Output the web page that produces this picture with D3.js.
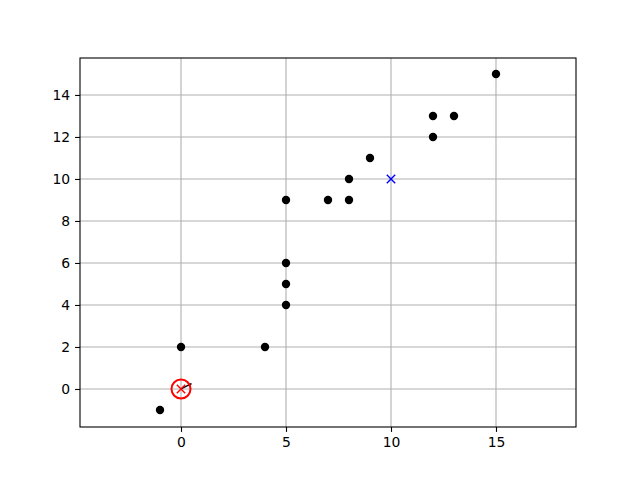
<!DOCTYPE html>
<html>
<head>
<script src="https://d3js.org/d3.v7.min.js"></script>
<style>
  body { margin: 0; background: #fff; }
  .tick text { font-family: "DejaVu Sans", sans-serif; font-size: 13.9px; fill: #000; }
</style>
</head>
<body>
<div id="chart"></div>
<script>
// data points (black dots)
var xs = [-1, 0, 4, 5, 5, 5, 5, 7, 8, 8, 9, 12, 12, 13, 15];
var ys = [-1, 2, 2, 4, 5, 6, 9, 9, 9, 10, 11, 12, 13, 13, 15];
// blue query marker
var queryX = [10], queryY = [10];
// red origin marker + arrow
var originX = [0], originY = [0];
var arrowEnd = [0.5, 0.25];
var xTicks = [0, 5, 10, 15];
var yTicks = [0, 2, 4, 6, 8, 10, 12, 14];

var width = 640, height = 480;
var margin = { top: 58, right: 64, bottom: 53, left: 80 };
var w = width - margin.left - margin.right;
var h = height - margin.top - margin.bottom;

var svg = d3.select('#chart').append('svg')
    .attr('width', width).attr('height', height);
var g = svg.append('g')
    .attr('transform', 'translate(' + margin.left + ',' + margin.top + ')');

var x = d3.scaleLinear().domain([-4.81, 18.81]).range([0, w]);
var y = d3.scaleLinear().domain([-1.81, 15.76]).range([h, 0]);

// grid
g.selectAll('.vgrid').data(xTicks).enter().append('line')
    .attr('x1', d => x(d)).attr('x2', d => x(d))
    .attr('y1', 0).attr('y2', h)
    .attr('stroke', '#b0b0b0').attr('stroke-width', 1.1);
g.selectAll('.hgrid').data(yTicks).enter().append('line')
    .attr('y1', d => y(d)).attr('y2', d => y(d))
    .attr('x1', 0).attr('x2', w)
    .attr('stroke', '#b0b0b0').attr('stroke-width', 1.1);

// axes
var xAxis = g.append('g').attr('transform', 'translate(0,' + h + ')')
    .call(d3.axisBottom(x).tickValues(xTicks).tickSize(4.9).tickPadding(4.9).tickFormat(d3.format('d')));
var yAxis = g.append('g')
    .call(d3.axisLeft(y).tickValues(yTicks).tickSize(4.9).tickPadding(4.9).tickFormat(d3.format('d')));
[xAxis, yAxis].forEach(function(a) {
    a.select('.domain').remove();
    a.selectAll('.tick line').attr('stroke', '#000').attr('stroke-width', 1.1);
});

// frame
g.append('rect').attr('x', 0).attr('y', 0).attr('width', w).attr('height', h)
    .attr('fill', 'none').attr('stroke', '#000').attr('stroke-width', 1.1);

// dots
g.selectAll('.dot').data(xs).enter().append('circle')
    .attr('cx', d => x(d)).attr('cy', (d, i) => y(ys[i]))
    .attr('r', 4.2).attr('fill', '#000');

function cross(sel, cx, cy, color) {
    var s = 4.2;
    sel.append('path')
        .attr('d', 'M' + (cx - s) + ',' + (cy - s) + 'L' + (cx + s) + ',' + (cy + s) +
                   'M' + (cx - s) + ',' + (cy + s) + 'L' + (cx + s) + ',' + (cy - s))
        .attr('stroke', color).attr('stroke-width', 1.4).attr('fill', 'none');
}

cross(g, x(queryX[0]), y(queryY[0]), '#0000ff');

// arrow from origin
var ax0 = x(originX[0]), ay0 = y(originY[0]);
var ax1 = x(arrowEnd[0]), ay1 = y(arrowEnd[1]);
var ang = Math.atan2(ay1 - ay0, ax1 - ax0);
g.append('line').attr('x1', ax0).attr('y1', ay0).attr('x2', ax1).attr('y2', ay1)
    .attr('stroke', '#000').attr('stroke-width', 1.4);
var hl = 4;
g.append('path')
    .attr('d', 'M' + ax1 + ',' + ay1 +
        'L' + (ax1 - hl * Math.cos(ang - 0.5)) + ',' + (ay1 - hl * Math.sin(ang - 0.5)) +
        'L' + (ax1 - hl * Math.cos(ang + 0.5)) + ',' + (ay1 - hl * Math.sin(ang + 0.5)) + 'Z')
    .attr('fill', '#000');

g.append('circle').attr('cx', x(originX[0])).attr('cy', y(originY[0]))
    .attr('r', 9.5).attr('fill', 'none').attr('stroke', '#ff0000').attr('stroke-width', 2);
cross(g, x(originX[0]), y(originY[0]), '#ff0000');
</script>
</body>
</html>
